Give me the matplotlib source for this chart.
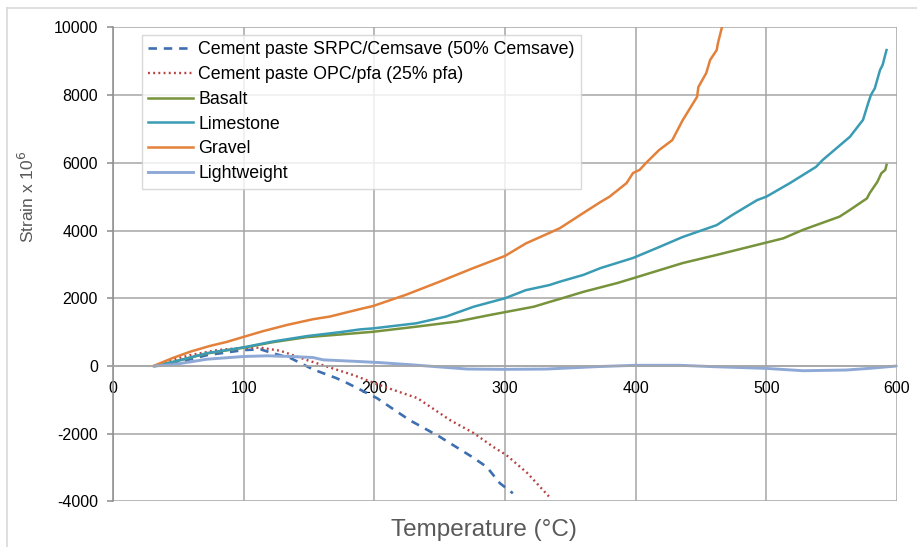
import matplotlib
matplotlib.use("Agg")
import matplotlib.pyplot as plt
from matplotlib.lines import Line2D

plt.rcParams['font.family'] = ['Liberation Sans', 'DejaVu Sans']
plt.rcParams['axes.unicode_minus'] = False

# temperature (degC) / strain x 10^6 for each material
srpc_t = [32, 46, 72, 100, 113, 122, 136, 153, 171, 179, 202, 227, 250, 275, 286, 296, 306]
srpc_s = [0, 70, 320, 470, 490, 380, 230, -100, -360, -500, -950, -1600, -2090, -2690, -2980, -3460, -3760]

opc_t = [32, 46, 59, 80, 100, 113, 128, 148, 164, 184, 208, 233, 258, 276, 291, 301, 317, 334]
opc_s = [0, 190, 320, 470, 540, 540, 450, 180, -20, -270, -620, -950, -1600, -1980, -2390, -2630, -3160, -3870]

basalt_t = [32, 46, 72, 100, 122, 148, 174, 199, 232, 263, 289, 300, 322, 334, 342, 360, 386, 398,
            436, 462, 487, 513, 528, 556, 564, 577, 579, 585, 588, 591, 592]
basalt_s = [0, 120, 370, 540, 700, 850, 930, 1010, 1160, 1310, 1510, 1590, 1750, 1890, 1980, 2190, 2450, 2590,
            3040, 3280, 3520, 3770, 4020, 4410, 4610, 4950, 5100, 5440, 5690, 5790, 5940]

limestone_t = [32, 46, 72, 100, 122, 148, 174, 189, 199, 232, 255, 276, 300, 316, 334, 342, 360, 373, 398,
               416, 436, 462, 474, 493, 500, 518, 538, 543, 564, 574, 578, 580, 583, 587, 589, 591, 592]
limestone_s = [0, 120, 380, 550, 720, 880, 1000, 1080, 1110, 1260, 1460, 1750, 2000, 2240, 2390, 2490, 2690, 2890, 3190,
               3480, 3810, 4160, 4460, 4900, 5000, 5400, 5880, 6080, 6770, 7270, 7770, 8000, 8200, 8740, 8890, 9190, 9330]

gravel_t = [31, 46, 59, 74, 87, 100, 115, 133, 153, 166, 189, 199, 224, 250, 275, 300, 316, 334, 342, 360,
            373, 380, 393, 398, 403, 408, 418, 428, 436, 447, 448, 454, 457, 462, 463, 466]
gravel_s = [0, 240, 420, 590, 710, 860, 1030, 1210, 1380, 1460, 1680, 1770, 2100, 2490, 2880, 3250, 3620, 3930, 4070, 4520,
            4840, 5000, 5400, 5700, 5790, 6000, 6380, 6670, 7260, 7950, 8240, 8650, 9040, 9330, 9540, 10000]

light_t = [32, 46, 72, 100, 118, 136, 153, 161, 189, 204, 230, 271, 300, 332, 370, 400, 434, 459, 499, 528, 561, 579, 600]
light_s = [0, 40, 200, 280, 300, 280, 250, 180, 130, 100, 30, -90, -100, -90, -20, 20, 20, -20, -70, -140, -120, -70, 0]

xticks = [0, 100, 200, 300, 400, 500, 600]
yticks = [-4000, -2000, 0, 2000, 4000, 6000, 8000, 10000]

fig = plt.figure(figsize=(9.17, 5.47), dpi=100)
ax = fig.add_axes([113 / 917, 45.6 / 547, 784 / 917, 474 / 547])

ax.plot(srpc_t, srpc_s, color='#3e6fb0', lw=1.9, ls=(0, (3.2, 2.6)), label='Cement paste SRPC/Cemsave (50% Cemsave)')
ax.plot(opc_t, opc_s, color='#b8413e', lw=1.7, ls=(0, (0.8, 1.4)), label='Cement paste OPC/pfa (25% pfa)')
ax.plot(basalt_t, basalt_s, color='#77933c', lw=1.8, label='Basalt')
ax.plot(limestone_t, limestone_s, color='#3a9bb5', lw=1.8, label='Limestone')
ax.plot(gravel_t, gravel_s, color='#e3813a', lw=1.8, label='Gravel')
ax.plot(light_t, light_s, color='#8ea9d6', lw=2.1, label='Lightweight')

ax.set_xlim(0, 600)
ax.set_ylim(-4000, 10000)
ax.set_xticks(xticks)
ax.set_yticks(yticks)
ax.grid(True, color='#a6a6a6', lw=1.1)
ax.set_axisbelow(True)

for s in ['top', 'right']:
    ax.spines[s].set_visible(False)
ax.spines['bottom'].set_position(('data', 0))
ax.spines['bottom'].set_color('#a6a6a6')
ax.spines['left'].set_color('#8c8c8c')
ax.spines['bottom'].set_linewidth(1.1)
ax.spines['left'].set_linewidth(1.1)

ax.tick_params(axis='x', length=0, pad=11, labelsize=11.5)
ax.tick_params(axis='y', length=4.3, width=1.1, color='#8c8c8c', pad=6.5, labelsize=11.5)

ax.set_xlabel('Temperature (\u00b0C)', fontsize=17.5, color='#595959')
ax.xaxis.set_label_coords(0.473, -0.038)
ax.set_ylabel('Strain x 10$^6$', fontsize=12.5, color='#595959')
ax.yaxis.set_label_coords(-0.097, 0.642)

leg = ax.legend(loc='upper left', bbox_to_anchor=(0.037, 0.984), borderaxespad=0,
                fontsize=12.8, frameon=True, fancybox=False, handlelength=2.5,
                handletextpad=0.3, labelspacing=0.44, borderpad=0.35)
leg.get_frame().set_edgecolor('#d0d0d0')
leg.get_frame().set_linewidth(1.0)

# chart area border
fig.add_artist(Line2D([7 / 917, 1], [1 - 8 / 547, 1 - 8 / 547], color='#d9d9d9', lw=1.2))
fig.add_artist(Line2D([7 / 917, 7 / 917], [0, 1 - 8 / 547], color='#d9d9d9', lw=1.2))

fig.savefig('out.png', dpi=100)
